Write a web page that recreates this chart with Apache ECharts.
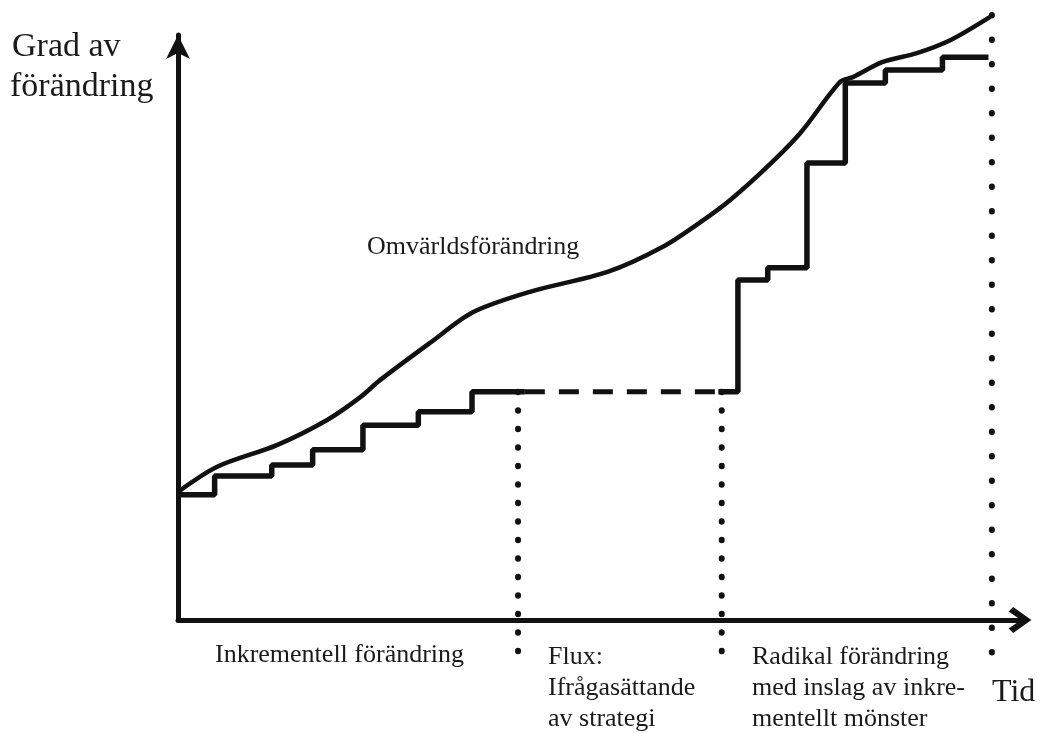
<!DOCTYPE html>
<html>
<head>
<meta charset="utf-8">
<script src="https://cdn.jsdelivr.net/npm/echarts@6/dist/echarts.min.js"></script>
<style>html,body{margin:0;padding:0;background:#fff;}#c{width:1040px;height:733px;}</style>
</head>
<body>
<div id="c"></div>
<script>
// Omvärldsförändring (environmental change) curve: [time, degree]
const environmentCurve = [[0,21.9],[4.6,26.2],[11.6,29.9],[17.5,34.2],[21.4,38.1],[23.7,41.0],[29.6,47.4],[34.6,52.6],[41.3,56.1],[50.4,59.5],[56.9,63.8],[61.3,68.0],[64.8,71.8],[69.1,77.4],[73.0,83.2],[77.7,92.0],[79.2,92.8],[82.7,95.4],[86.7,96.9],[90.6,99.1],[95.3,103.1]];
// Incremental strategy steps (level changes)
const incrementalSteps = [[0,21.4],[4.3,24.6],[11.0,26.5],[15.8,29.1],[21.7,33.3],[28.2,35.6],[34.5,39.0],[40.7,39.0]];
// Flux plateau (dashed)
const fluxPlateau = [[40.7,39.0],[63.4,39.0]];
// Radical change with incremental elements
const radicalSteps = [[63.4,39.0],[65.7,58.1],[69.2,60.2],[73.8,78.1],[78.3,91.8],[83.0,94.0],[89.7,96.2],[95.1,96.2]];
// Phase boundaries (dotted verticals): x, top, bottom
const boundaryX = [39.9, 63.8, 95.5];
const boundaryTop = [39.0, 39.0, 103.4];
const boundaryBottom = -6.0;
// Texts
const yTitle = ['Grad av', 'förändring'];
const xTitle = 'Tid';
const curveLabel = 'Omvärldsförändring';
const phaseLabels = ['Inkrementell förändring', 'Flux:\nIfrågasättande\nav strategi', 'Radikal förändring\nmed inslag av inkre-\nmentellt mönster'];

const chart = echarts.init(document.getElementById('c'), null, {renderer: 'canvas'});
const serif = '"Liberation Serif", "DejaVu Serif", serif';
const ink = '#111';

const boundarySeries = boundaryX.map((x, i) => ({
  type: 'line', clip: false, silent: true, symbol: 'none',
  data: [[x, boundaryTop[i]], [x, boundaryBottom]],
  lineStyle: {color: ink, width: 6, type: i === 2 ? [0.5, 24] : [0.5, 18], cap: 'round'}
}));

const txt = (text, x, y, size, lh) => ({
  type: 'text', x: x, y: y, silent: true,
  style: {text: text, font: size + 'px ' + serif, fill: '#1a1a1a', textAlign: 'left', align: 'left', textVerticalAlign: 'top', verticalAlign: 'top', lineHeight: lh || size}
});

chart.setOption({
  backgroundColor: '#fff',
  animation: false,
  grid: {left: 178, right: 20, top: 35, bottom: 113},
  xAxis: {
    type: 'value', min: 0, max: 98.8,
    axisLine: {show: true, onZero: false, symbol: ['none', 'path://M10 0L20 14L16.5 17.5L10 8L3.5 17.5L0 14Z'], symbolSize: [26, 26], lineStyle: {color: ink, width: 5}},
    axisTick: {show: false}, axisLabel: {show: false}, splitLine: {show: false}
  },
  yAxis: {
    type: 'value', min: 0, max: 100,
    axisLine: {show: true, onZero: false, symbol: ['none', 'arrow'], symbolSize: [18, 24], lineStyle: {color: ink, width: 5}},
    axisTick: {show: false}, axisLabel: {show: false}, splitLine: {show: false}
  },
  series: [
    {type: 'line', clip: false, symbol: 'none', smooth: 0.3, data: environmentCurve, lineStyle: {color: ink, width: 4.5}},
    {type: 'line', clip: false, symbol: 'none', step: 'end', data: incrementalSteps, lineStyle: {color: ink, width: 5.5}},
    {type: 'line', clip: false, symbol: 'none', data: fluxPlateau, lineStyle: {color: ink, width: 5, type: [20, 14]}},
    {type: 'line', clip: false, symbol: 'none', step: 'end', data: radicalSteps, lineStyle: {color: ink, width: 5.5}}
  ].concat(boundarySeries),
  graphic: [
    txt(yTitle[0], 12, 30, 34),
    txt(yTitle[1], 10, 70, 34),
    txt(curveLabel, 367, 234, 26),
    txt(phaseLabels[0], 215, 642, 26),
    txt(phaseLabels[1], 548, 642, 26, 31),
    txt(phaseLabels[2], 752, 642, 26, 31),
    txt(xTitle, 992, 677, 32)
  ]
});
</script>
</body>
</html>
